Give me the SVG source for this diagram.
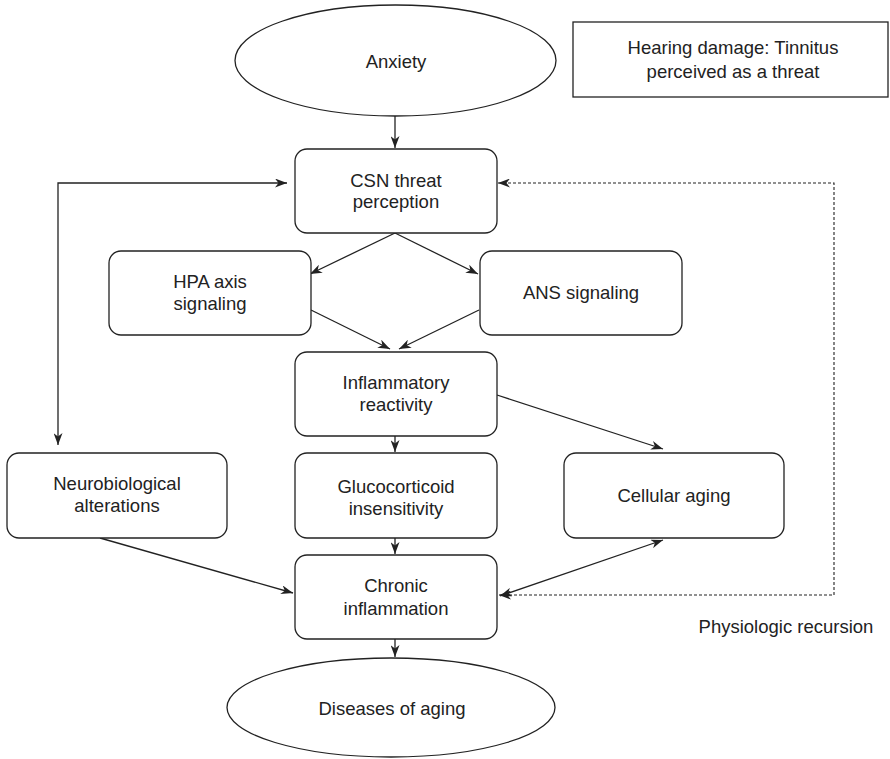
<svg xmlns="http://www.w3.org/2000/svg" width="890" height="759" viewBox="0 0 890 759">
  <defs>
    <style>
      .box { fill: #fff; stroke: #222; stroke-width: 1.3; }
      .lbl { font-family: "Liberation Sans", Arial, sans-serif; font-size: 18.5px; fill: #222; text-anchor: middle; }
      .edge { fill: none; stroke: #222; stroke-width: 1.3; }
      .dash { fill: none; stroke: #222; stroke-width: 1.1; stroke-dasharray: 3 2; }
    </style>
    <marker id="arrow" viewBox="0 0 12 9" refX="12" refY="4.5" markerWidth="12" markerHeight="9" markerUnits="userSpaceOnUse" orient="auto-start-reverse">
      <path d="M0,0 L12,4.5 L0,9 L3.5,4.5 z" fill="#222"/>
    </marker>
  </defs>

  <!-- connectors -->
  <g id="connectors">
    <line class="edge" x1="395" y1="116" x2="395" y2="148" marker-end="url(#arrow)"/>
    <line class="edge" x1="395" y1="233" x2="310" y2="274" marker-end="url(#arrow)"/>
    <line class="edge" x1="395" y1="233" x2="478" y2="274" marker-end="url(#arrow)"/>
    <line class="edge" x1="311" y1="310" x2="390" y2="349" marker-end="url(#arrow)"/>
    <line class="edge" x1="479" y1="310" x2="399" y2="349" marker-end="url(#arrow)"/>
    <line class="edge" x1="395" y1="436" x2="395" y2="452" marker-end="url(#arrow)"/>
    <line class="edge" x1="395" y1="538" x2="395" y2="554" marker-end="url(#arrow)"/>
    <line class="edge" x1="395" y1="639" x2="395" y2="657" marker-end="url(#arrow)"/>
    <line class="edge" x1="497" y1="395" x2="663" y2="449" marker-end="url(#arrow)"/>
    <line class="edge" x1="100" y1="538" x2="293" y2="593" marker-end="url(#arrow)"/>
    <line class="edge" x1="663" y1="540" x2="500" y2="596" marker-start="url(#arrow)" marker-end="url(#arrow)"/>
    <polyline class="edge" points="58,445 58,183 287,183" marker-start="url(#arrow)" marker-end="url(#arrow)"/>
    <polyline class="dash" points="499,595 834,595 834,183 498,183" marker-start="url(#arrow)" marker-end="url(#arrow)"/>
  </g>

  <!-- nodes -->
  <g id="anxiety">
    <ellipse class="box" cx="395.5" cy="60.5" rx="160.5" ry="55.5"/>
    <text class="lbl" x="396" y="68">Anxiety</text>
  </g>
  <g id="hearing-damage">
    <rect class="box" x="573" y="22" width="315" height="75"/>
    <text class="lbl" x="733" y="54">Hearing damage: Tinnitus</text>
    <text class="lbl" x="733" y="78">perceived as a threat</text>
  </g>
  <g id="csn-threat">
    <rect class="box" x="295" y="149" width="202" height="84" rx="12"/>
    <text class="lbl" x="396" y="187">CSN threat</text>
    <text class="lbl" x="396" y="208">perception</text>
  </g>
  <g id="hpa">
    <rect class="box" x="109" y="251" width="202" height="84" rx="12"/>
    <text class="lbl" x="210" y="288">HPA axis</text>
    <text class="lbl" x="210" y="310">signaling</text>
  </g>
  <g id="ans">
    <rect class="box" x="480" y="251" width="202" height="84" rx="12"/>
    <text class="lbl" x="581" y="299">ANS signaling</text>
  </g>
  <g id="inflammatory-reactivity">
    <rect class="box" x="295" y="352" width="202" height="84" rx="12"/>
    <text class="lbl" x="396" y="389">Inflammatory</text>
    <text class="lbl" x="396" y="411">reactivity</text>
  </g>
  <g id="neurobiological">
    <rect class="box" x="7" y="453" width="220" height="85" rx="12"/>
    <text class="lbl" x="117" y="490">Neurobiological</text>
    <text class="lbl" x="117" y="512">alterations</text>
  </g>
  <g id="glucocorticoid">
    <rect class="box" x="295" y="453" width="202" height="85" rx="12"/>
    <text class="lbl" x="396" y="493">Glucocorticoid</text>
    <text class="lbl" x="396" y="515">insensitivity</text>
  </g>
  <g id="cellular-aging">
    <rect class="box" x="564" y="453" width="220" height="85" rx="12"/>
    <text class="lbl" x="674" y="502">Cellular aging</text>
  </g>
  <g id="chronic-inflammation">
    <rect class="box" x="295" y="555" width="202" height="84" rx="12"/>
    <text class="lbl" x="396" y="592">Chronic</text>
    <text class="lbl" x="396" y="615">inflammation</text>
  </g>
  <g id="diseases">
    <ellipse class="box" cx="391" cy="707.5" rx="164" ry="49.5"/>
    <text class="lbl" x="392" y="715">Diseases of aging</text>
  </g>
  <g id="recursion-label">
    <text class="lbl" x="786" y="633">Physiologic recursion</text>
  </g>
</svg>
